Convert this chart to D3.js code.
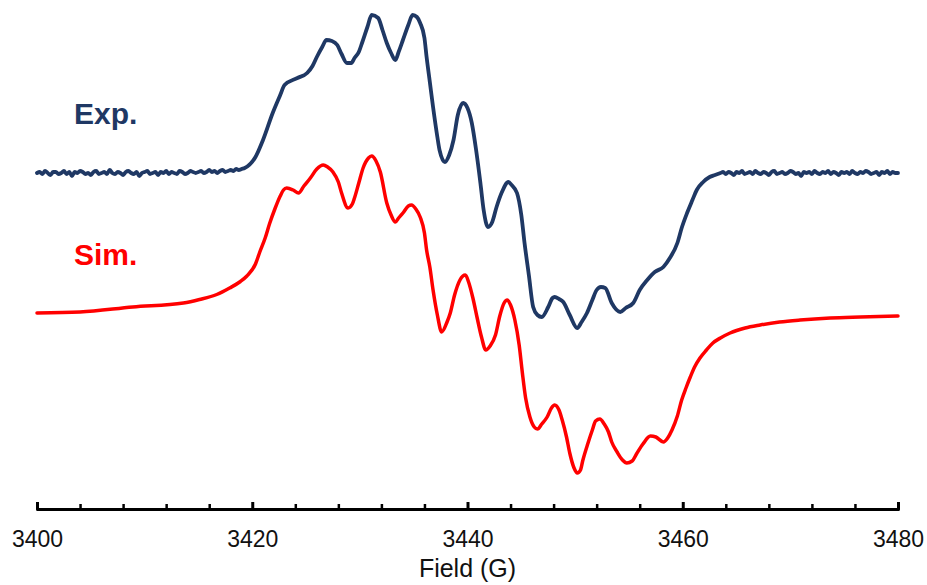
<!DOCTYPE html>
<html><head><meta charset="utf-8">
<script src="https://cdn.jsdelivr.net/npm/d3@7"></script>
<style>html,body{margin:0;padding:0;background:#fff;}svg{display:block;}</style>
</head><body>
<svg id="chart" width="927" height="585"></svg>
<script>
// ---- data (Field in G, signal in arbitrary units) ----
const expField = [3400,3400.25,3400.5,3400.75,3401,3401.25,3401.5,3401.75,3402,3402.25,3402.5,3402.75,3403,3403.25,3403.5,3403.75,3404,3404.25,3404.5,3404.75,
3405,3405.25,3405.5,3405.75,3406,3406.25,3406.5,3406.75,3407,3407.25,3407.5,3407.75,3408,3408.25,3408.5,3408.75,3409,3409.25,3409.5,3409.75,
3410,3410.25,3410.5,3410.75,3411,3411.25,3411.5,3411.75,3412,3412.25,3412.5,3412.75,3413,3413.25,3413.5,3413.75,3414,3414.25,3414.5,3414.75,
3415,3415.25,3415.5,3415.75,3416,3416.25,3416.5,3416.75,3417,3417.25,3417.5,3417.75,3418,3418.25,3418.5,3418.75,3419,
3419.3,3420.3,3421.0,3421.9,3422.6,3423.0,3424.2,3425.1,3425.6,3426.0,3426.5,3426.9,3427.4,3427.9,3428.3,3428.8,3429.2,3429.5,3429.9,3430.2,3430.7,3431.1,3431.7,3432.1,3432.5,3432.9,3433.3,3433.6,3434.0,3434.5,3434.9,3435.3,3435.6,3436.0,3436.2,3436.5,3436.8,3437.2,3437.4,3437.9,3438.3,3438.7,3439.1,3439.6,3440.0,3440.4,3440.8,3441.2,3441.5,3441.9,3442.3,3442.7,3443.2,3443.8,3444.1,3444.6,3445.0,3445.3,3445.7,3446.1,3446.5,3446.9,3447.5,3447.9,3448.1,3448.5,3448.9,3449.5,3450.2,3450.6,3451.1,3451.6,3452.0,3452.4,3452.8,3453.4,3454.2,3454.7,3455.4,3456.0,3456.7,3457.4,3458.2,3458.8,3459.5,3459.9,3460.4,3460.9,3461.3,3461.9,3462.5,3463.0,
3463.25,3463.5,3463.75,3464,3464.25,3464.5,3464.75,3465,3465.25,3465.5,3465.75,3466,3466.25,3466.5,3466.75,3467,3467.25,3467.5,3467.75,3468,
3468.25,3468.5,3468.75,3469,3469.25,3469.5,3469.75,3470,3470.25,3470.5,3470.75,3471,3471.25,3471.5,3471.75,3472,3472.25,3472.5,3472.75,3473,
3473.25,3473.5,3473.75,3474,3474.25,3474.5,3474.75,3475,3475.25,3475.5,3475.75,3476,3476.25,3476.5,3476.75,3477,3477.25,3477.5,3477.75,3478,
3478.25,3478.5,3478.75,3479,3479.25,3479.5,3479.75,3480];
const expSignal = [0.00,0.01,-0.01,0.02,0.00,-0.02,0.01,0.01,-0.01,0.00,0.02,-0.01,0.01,-0.03,0.01,0.00,0.02,0.01,-0.01,0.00,
-0.02,0.01,0.02,-0.01,0.00,0.01,-0.01,0.03,0.00,-0.01,0.01,0.00,-0.02,0.01,0.02,0.00,-0.01,0.01,-0.03,0.00,
0.01,0.02,-0.01,0.00,0.01,-0.02,0.01,0.00,0.02,-0.01,0.01,0.00,-0.01,0.02,0.01,-0.01,0.00,0.02,0.01,0.00,
0.01,0.02,0.00,0.01,0.03,0.01,0.02,0.00,0.02,0.03,0.01,0.02,0.03,0.02,0.04,0.03,0.04,
0.05,0.16,0.33,0.60,0.78,0.88,0.95,1.00,1.07,1.16,1.26,1.33,1.32,1.28,1.19,1.10,1.10,1.15,1.21,1.30,1.46,1.58,1.55,1.43,1.30,1.20,1.13,1.21,1.33,1.48,1.58,1.56,1.50,1.35,1.16,0.91,0.66,0.36,0.23,0.11,0.18,0.33,0.58,0.70,0.65,0.50,0.23,-0.10,-0.37,-0.54,-0.49,-0.34,-0.19,-0.09,-0.12,-0.20,-0.42,-0.70,-1.02,-1.34,-1.42,-1.44,-1.34,-1.25,-1.24,-1.26,-1.29,-1.42,-1.55,-1.49,-1.40,-1.27,-1.17,-1.14,-1.15,-1.30,-1.39,-1.35,-1.30,-1.17,-1.07,-0.99,-0.94,-0.85,-0.70,-0.55,-0.40,-0.27,-0.17,-0.09,-0.04,-0.02,
-0.01,0.00,0.01,-0.01,0.01,0.00,-0.02,0.01,0.00,0.02,-0.01,0.00,0.01,-0.01,0.02,0.00,-0.01,0.01,0.00,-0.02,
0.01,0.02,-0.01,0.00,0.01,-0.01,0.00,0.02,0.01,-0.01,0.00,-0.03,0.01,0.00,0.01,-0.01,0.02,0.00,-0.01,0.01,
0.00,0.02,-0.01,0.01,0.00,-0.02,0.01,0.00,0.01,-0.01,0.02,0.00,-0.01,0.01,0.00,0.02,0.01,-0.01,0.00,0.01,
-0.02,0.01,0.00,0.02,-0.01,0.01,0.00,0.00];

const simField = [3400.0,3404.0,3408.9,3413.6,3415.1,3416.7,3417.9,3418.9,3419.5,3420.3,3420.7,3421.2,3421.6,3422.1,3422.6,3422.9,3423.2,3423.8,3424.3,3424.8,3425.4,3426.0,3426.6,3427.0,3427.5,3428.0,3428.3,3428.9,3429.3,3429.5,3429.9,3430.3,3430.8,3431.1,3431.5,3431.9,3432.5,3432.9,3433.3,3433.6,3434.0,3434.5,3434.8,3435.2,3435.6,3436.0,3436.2,3436.5,3436.8,3437.2,3437.6,3438.1,3438.4,3438.8,3439.3,3439.8,3440.1,3440.5,3440.9,3441.3,3441.7,3442.1,3442.6,3443.0,3443.4,3443.7,3444.0,3444.4,3444.8,3445.1,3445.4,3445.8,3446.2,3446.5,3446.9,3447.4,3447.8,3448.1,3448.5,3448.8,3449.2,3449.5,3449.9,3450.2,3450.5,3450.7,3451.2,3451.6,3451.9,3452.3,3452.7,3453.1,3453.4,3453.9,3454.4,3454.8,3455.3,3455.7,3456.3,3457.0,3457.5,3458.2,3458.6,3459.0,3459.5,3459.9,3460.3,3460.7,3461.1,3461.6,3462.2,3462.8,3463.5,3464.4,3465.8,3467.2,3469.0,3470.9,3473.7,3476.5,3480.0];
const simSignal = [0.01,0.02,0.07,0.11,0.145,0.195,0.26,0.325,0.38,0.50,0.62,0.76,0.90,1.05,1.18,1.24,1.26,1.24,1.21,1.28,1.36,1.45,1.49,1.47,1.42,1.32,1.21,1.06,1.10,1.16,1.31,1.46,1.56,1.58,1.53,1.42,1.11,0.99,0.92,0.96,1.01,1.08,1.09,1.05,0.97,0.81,0.64,0.47,0.24,-0.01,-0.18,-0.08,0.01,0.19,0.34,0.39,0.32,0.16,-0.04,-0.23,-0.36,-0.32,-0.21,-0.02,0.11,0.14,0.09,-0.06,-0.31,-0.59,-0.84,-1.03,-1.13,-1.15,-1.10,-1.03,-0.94,-0.91,-0.96,-1.06,-1.23,-1.39,-1.54,-1.59,-1.56,-1.47,-1.29,-1.16,-1.07,-1.05,-1.10,-1.18,-1.28,-1.38,-1.46,-1.49,-1.47,-1.40,-1.30,-1.22,-1.23,-1.28,-1.24,-1.16,-1.02,-0.86,-0.74,-0.63,-0.53,-0.44,-0.36,-0.29,-0.24,-0.19,-0.14,-0.11,-0.08,-0.06,-0.04,-0.03,-0.02];

const expOffset = 1.41;
const simOffset = 0.0;
const majorTicks = [3400,3420,3440,3460,3480];
const minorTicks = [3404,3408,3412,3416,3424,3428,3432,3436,3444,3448,3452,3456,3464,3468,3472,3476];
const seriesLabels = ["Exp.","Sim."];
const xTitle = "Field (G)";

// ---- drawing ----
const svg = d3.select("#chart");
const x = d3.scaleLinear().domain([3400,3480]).range([37,898]);
const y = d3.scaleLinear().domain([-2,3]).range([514,14]);
const axisY = 509;

const expLine = d3.line().curve(d3.curveMonotoneX);
const simLine = d3.line().curve(d3.curveMonotoneX);

const expPts = expField.map((f,i)=>[x(f), y(expSignal[i]+expOffset)]);
const simPts = simField.map((f,i)=>[x(f), y(simSignal[i]+simOffset)]);

svg.append("path").attr("d", simLine(simPts))
  .attr("fill","none").attr("stroke","#ff0000").attr("stroke-width",3.5)
  .attr("stroke-linejoin","round").attr("stroke-linecap","round");
svg.append("path").attr("d", expLine(expPts))
  .attr("fill","none").attr("stroke","#1f3864").attr("stroke-width",3.8)
  .attr("stroke-linejoin","round").attr("stroke-linecap","round");

// series labels
svg.append("text").attr("x",74).attr("y",124).text(seriesLabels[0])
  .attr("font-family","Liberation Sans, Arial, sans-serif").attr("font-weight","bold")
  .attr("font-size",30).attr("fill","#1f3864");
svg.append("text").attr("x",74).attr("y",265).text(seriesLabels[1])
  .attr("font-family","Liberation Sans, Arial, sans-serif").attr("font-weight","bold")
  .attr("font-size",30).attr("fill","#ff0000");

// minor ticks
const minorAxis = d3.axisBottom(x).tickValues(minorTicks).tickSize(-5).tickSizeOuter(0).tickFormat("");
const gMinor = svg.append("g").attr("transform",`translate(0,${axisY})`).call(minorAxis);
gMinor.select(".domain").remove();
gMinor.selectAll(".tick line").attr("stroke","#000").attr("stroke-width",2.5);

// major axis
const majorAxis = d3.axisBottom(x).tickValues(majorTicks).tickSize(-7).tickSizeOuter(-7)
  .tickPadding(22).tickFormat(d3.format("d"));
const gMajor = svg.append("g").attr("transform",`translate(0,${axisY})`).call(majorAxis);
gMajor.select(".domain").attr("stroke","#000").attr("stroke-width",3).attr("stroke-linejoin","round");
gMajor.selectAll(".tick line").attr("stroke","#000").attr("stroke-width",3);
gMajor.selectAll(".tick text").attr("font-family","Liberation Sans, Arial, sans-serif")
  .attr("font-size",23).attr("fill","#111");

svg.append("text").attr("x", x(3440)).attr("y",577).attr("text-anchor","middle")
  .text(xTitle).attr("font-family","Liberation Sans, Arial, sans-serif")
  .attr("font-size",25).attr("fill","#111");
</script>
</body></html>
